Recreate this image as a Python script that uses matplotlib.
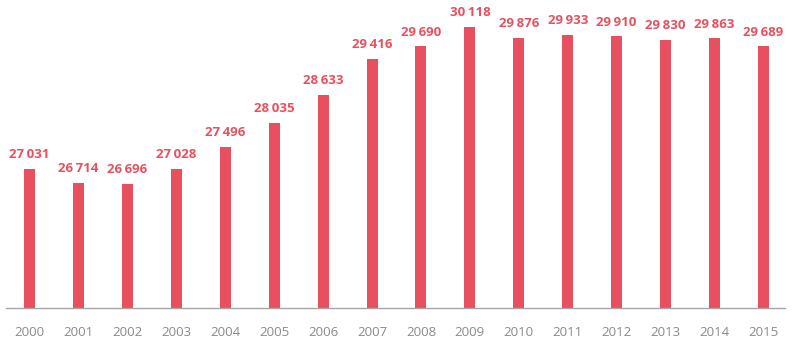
import numpy as np
import matplotlib.pyplot as plt

# yearly totals
years = [str(y) for y in range(2000, 2016)]
values = [27031, 26714, 26696, 27028, 27496, 28035, 28633, 29416,
          29690, 30118, 29876, 29933, 29910, 29830, 29863, 29689]

bar_color = "#E8505F"
tick_color = "#8a8a8a"

fig = plt.figure(figsize=(8, 3.58), dpi=100)
# axes placed to match the reference pixel layout
ax = fig.add_axes([6 / 800, 1 - 308 / 358, (785 - 6) / 800, 308 / 358])

x = np.arange(len(years))
ax.bar(x, values, width=0.225, color=bar_color, zorder=2)

# value labels with thin space as thousands separator
for xi, v in zip(x, values):
    label = f"{v:,}".replace(",", "\u2009")
    ax.text(xi, v + 170, label, ha="center", va="bottom",
            color=bar_color, fontsize=9.5, fontweight="bold",
            family=["Open Sans", "DejaVu Sans"])

ax.set_xlim(-0.48, 15.44)
ax.set_ylim(24000, 30700)

ax.set_xticks(x)
ax.set_xticklabels(years, color=tick_color, fontsize=9.5,
                   family=["Open Sans", "DejaVu Sans"])
ax.tick_params(axis="x", length=0, pad=13)
ax.set_yticks([])

for side in ["top", "right", "left"]:
    ax.spines[side].set_visible(False)
ax.spines["bottom"].set_color("#a6a6a6")
ax.spines["bottom"].set_linewidth(1.0)

fig.savefig("out.png", dpi=100)
